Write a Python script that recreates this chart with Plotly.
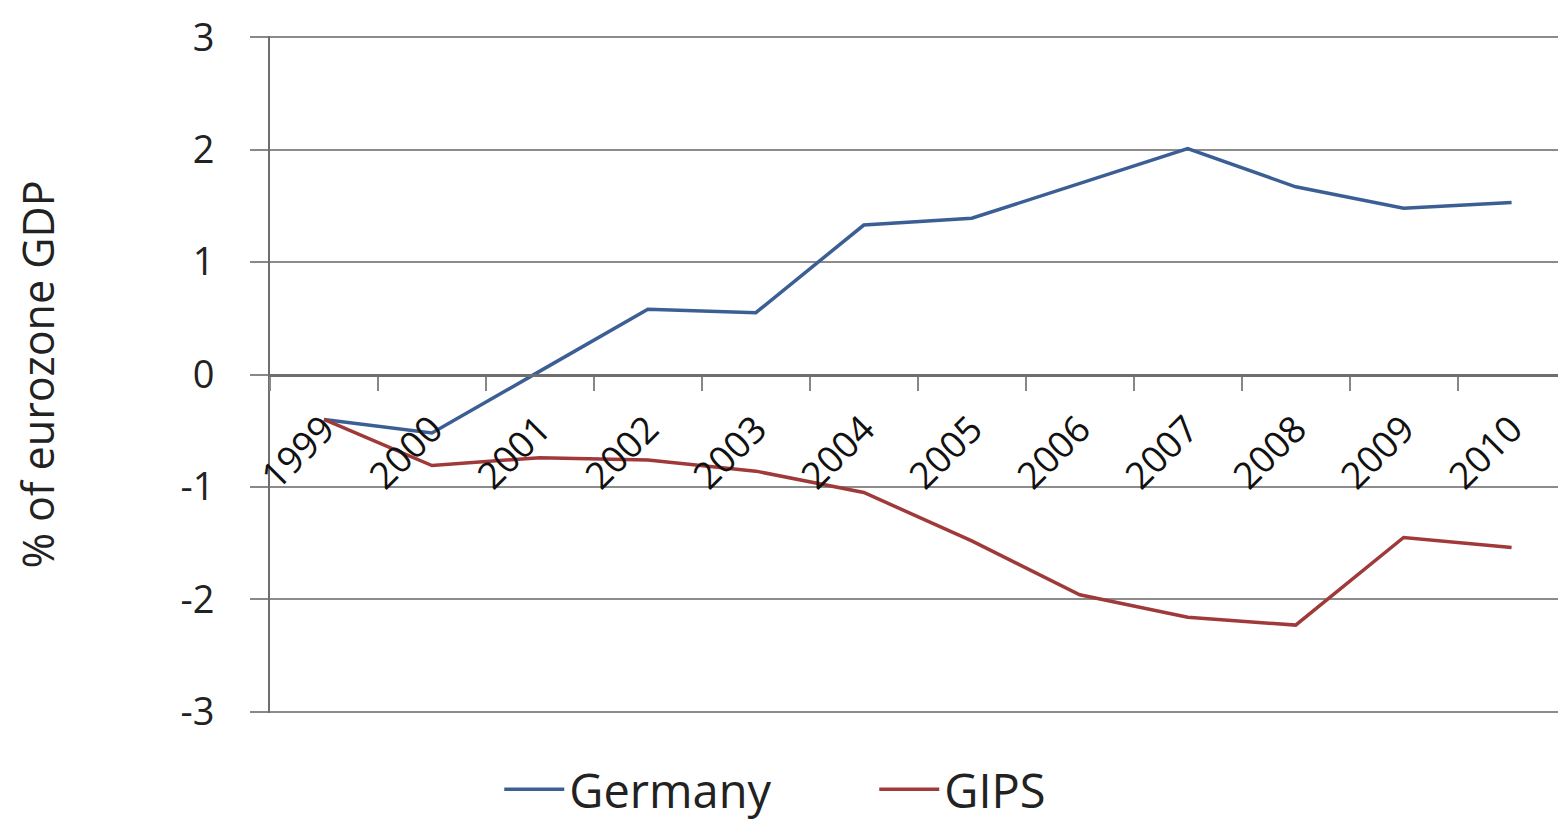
import plotly.graph_objects as go

years = ["1999", "2000", "2001", "2002", "2003", "2004", "2005", "2006", "2007", "2008", "2009", "2010"]
germany = [-0.40, -0.52, 0.03, 0.58, 0.55, 1.33, 1.39, 1.70, 2.01, 1.67, 1.48, 1.53]
gips = [-0.40, -0.81, -0.74, -0.76, -0.86, -1.05, -1.48, -1.96, -2.16, -2.23, -1.45, -1.54]
y_ticks = [-3, -2, -1, 0, 1, 2, 3]
y_tick_labels = ["-3", "-2", "-1", "0", "1", "2", "3"]

FONT = "Open Sans"

fig = go.Figure()
fig.add_trace(go.Scatter(x=years, y=germany, mode="lines", name="Germany",
                         line=dict(color="#3b5f94", width=3.5)))
fig.add_trace(go.Scatter(x=years, y=gips, mode="lines", name="GIPS",
                         line=dict(color="#a03a3a", width=3.5)))

fig.update_layout(
    width=1558, height=832,
    margin=dict(l=270, r=0, t=36, b=119, autoexpand=False),
    plot_bgcolor="white", paper_bgcolor="white",
    font=dict(family=FONT, color="#222222", size=32),
    showlegend=True,
    legend=dict(orientation="h", x=0.178, xanchor="left", y=-0.058, yanchor="top",
                font=dict(size=47, family=FONT, color="#222222"),
                itemwidth=60, entrywidth=300, entrywidthmode="pixels",
                traceorder="normal"),
    xaxis=dict(
        type="category", range=[-0.5, 11.43],
        anchor="free", position=0.5,
        showline=True, linecolor="#6e6e6e", linewidth=3,
        ticks="outside", ticklen=14, tickcolor="#888888", tickwidth=2,
        tickson="boundaries",
        tickangle=-45, tickfont=dict(size=37, family=FONT, color="#111111"),
        ticklabelstandoff=16,
        showgrid=False, zeroline=False,
    ),
    yaxis=dict(
        range=[-3.012, 3.012], tickvals=y_ticks, ticktext=y_tick_labels,
        showline=True, linecolor="#6e6e6e", linewidth=2,
        ticks="outside", ticklen=18, tickcolor="#888888", tickwidth=2,
        showgrid=True, gridcolor="#8c8c8c", gridwidth=2,
        zeroline=False,
        tickfont=dict(size=38, family=FONT, color="#222222"),
        ticklabelstandoff=28,
        title=dict(text="% of eurozone GDP", font=dict(size=43, family=FONT, color="#222222"),
                   standoff=112),
    ),
)

fig.write_html("out.html")
